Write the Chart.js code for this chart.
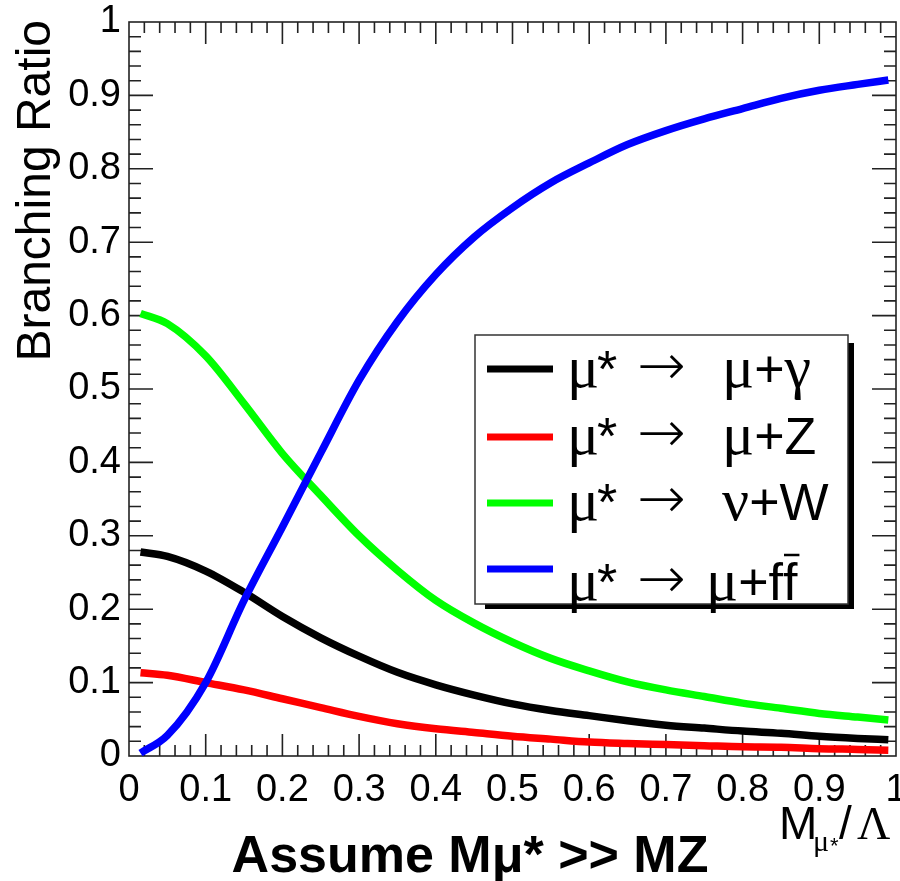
<!DOCTYPE html>
<html>
<head>
<meta charset="utf-8">
<script src="https://cdn.jsdelivr.net/npm/chart.js@4.4.0/dist/chart.umd.min.js"></script>
<style>
  html, body { margin: 0; padding: 0; background: #fff; }
</style>
</head>
<body>
<canvas id="myChart" width="900" height="881"></canvas>
<script>
// M/Lambda values the branching ratios were read at
const massRatio = [0.015, 0.05, 0.1, 0.15, 0.2, 0.25, 0.3, 0.35, 0.4, 0.45, 0.5,
                   0.55, 0.6, 0.65, 0.7, 0.75, 0.8, 0.85, 0.9, 0.95, 0.99];

const brGamma = [0.278, 0.272, 0.252, 0.223, 0.190, 0.161, 0.136, 0.114, 0.097, 0.083, 0.071,
                 0.062, 0.055, 0.048, 0.042, 0.038, 0.034, 0.031, 0.027, 0.024, 0.022];
const brZ     = [0.1135, 0.110, 0.100, 0.090, 0.078, 0.066, 0.054, 0.044, 0.037, 0.032, 0.027,
                 0.023, 0.019, 0.017, 0.0155, 0.014, 0.0125, 0.012, 0.010, 0.009, 0.008];
const brW     = [0.603, 0.589, 0.545, 0.480, 0.412, 0.355, 0.300, 0.253, 0.212, 0.181, 0.155,
                 0.133, 0.116, 0.101, 0.090, 0.081, 0.072, 0.065, 0.058, 0.053, 0.049];
const brFF    = [0.004, 0.028, 0.100, 0.212, 0.312, 0.413, 0.512, 0.592, 0.656, 0.707, 0.747,
                 0.781, 0.808, 0.833, 0.852, 0.868, 0.882, 0.896, 0.907, 0.915, 0.921];

const tickLabels = ['0', '0.1', '0.2', '0.3', '0.4', '0.5', '0.6', '0.7', '0.8', '0.9', '1'];

const seriesNames = ['μ* → μ+γ', 'μ* → μ+Z', 'μ* → ν+W', 'μ* → μ+ff̄'];
const seriesColors = ['#000000', '#ff0000', '#00ff00', '#0000ff'];

const SANS = '"Liberation Sans", Arial, sans-serif';
const SERIF = '"Liberation Serif", "Times New Roman", serif';

const toPoints = (ys) => ys.map((y, i) => ({ x: massRatio[i], y: y }));

// draw a list of [text, font] pieces one after another
function drawRuns(ctx, x, y, runs) {
  runs.forEach(([text, font]) => {
    ctx.font = font;
    ctx.fillText(text, x, y);
    x += ctx.measureText(text).width;
  });
  return x;
}

// ROOT-like frame: box with inward ticks on all four sides
const frameTicks = {
  id: 'frameTicks',
  beforeDatasetsDraw(chart) {
    const ctx = chart.ctx;
    const a = chart.chartArea;
    const xs = chart.scales.x, ys = chart.scales.y;
    ctx.save();
    ctx.strokeStyle = '#222';
    ctx.lineWidth = 1.6;
    ctx.strokeRect(a.left, a.top, a.right - a.left, a.bottom - a.top);
    ctx.beginPath();
    for (let i = 1; i < 50; i++) {
      const v = i / 50;
      const major = i % 5 === 0;
      const px = xs.getPixelForValue(v);
      const lx = major ? 22 : 11;
      ctx.moveTo(px, a.bottom); ctx.lineTo(px, a.bottom - lx);
      ctx.moveTo(px, a.top); ctx.lineTo(px, a.top + lx);
      const py = ys.getPixelForValue(v);
      const ly = major ? 24 : 12;
      ctx.moveTo(a.left, py); ctx.lineTo(a.left + ly, py);
      ctx.moveTo(a.right, py); ctx.lineTo(a.right - ly, py);
    }
    ctx.stroke();
    ctx.restore();
  },
  afterDraw(chart) {
    const ctx = chart.ctx;
    ctx.save();
    ctx.fillStyle = '#000';
    ctx.textBaseline = 'alphabetic';

    // y axis title, right aligned to the top of the frame
    ctx.save();
    ctx.translate(50, 20);
    ctx.rotate(-Math.PI / 2);
    ctx.textAlign = 'right';
    ctx.font = '48px ' + SANS;
    ctx.fillText('Branching Ratio', 0, 0);
    ctx.restore();

    // x axis title M_{mu*}/Lambda
    ctx.textAlign = 'left';
    ctx.font = '46px ' + SANS;
    ctx.fillText('M', 779, 839);
    ctx.font = '30px ' + SERIF;
    ctx.fillText('μ', 813, 851);
    ctx.font = '22px ' + SANS;
    ctx.fillText('*', 830, 853);
    ctx.font = '46px ' + SANS;
    ctx.fillText('/', 839, 839);
    ctx.font = '46px ' + SERIF;
    ctx.fillText('Λ', 857, 839);

    // caption under the plot
    ctx.textAlign = 'center';
    ctx.font = 'bold 52px ' + SANS;
    ctx.fillText('Assume Mμ* >> MZ', 470, 872);

    // legend box with drop shadow
    const box = { l: 475, t: 335, r: 848, b: 604 };
    ctx.fillStyle = '#000';
    ctx.fillRect(box.l + 10, box.b, box.r - box.l - 4, 5);
    ctx.fillRect(box.r, box.t + 8, 6, box.b - box.t - 3);
    ctx.fillStyle = '#fff';
    ctx.fillRect(box.l, box.t, box.r - box.l, box.b - box.t);
    ctx.strokeStyle = '#333';
    ctx.lineWidth = 1.5;
    ctx.strokeRect(box.l, box.t, box.r - box.l, box.b - box.t);

    const rows = [
      { y: 369, base: 18, x2: 722, prod: [['μ', '60px ' + SERIF], ['+', '52px ' + SANS], ['γ', '60px ' + SERIF]] },
      { y: 437, base: 17, x2: 722, prod: [['μ', '60px ' + SERIF], ['+', '52px ' + SANS], ['Z', '52px ' + SANS]] },
      { y: 503, base: 17, x2: 722, prod: [['ν', '60px ' + SERIF], ['+', '52px ' + SANS], ['W', '52px ' + SANS]] },
      { y: 569, base: 31, x2: 706, prod: [['μ', '60px ' + SERIF], ['+', '52px ' + SANS], ['f', '52px ' + SANS], ['f', '52px ' + SANS]], bar: true }
    ];
    ctx.textAlign = 'left';
    chart.data.datasets.forEach((ds, i) => {
      const row = rows[i];
      ctx.strokeStyle = ds.borderColor;
      ctx.lineWidth = 7;
      ctx.beginPath();
      ctx.moveTo(487, row.y);
      ctx.lineTo(553, row.y);
      ctx.stroke();

      const base = row.y + row.base;
      ctx.fillStyle = '#000';
      ctx.font = '60px ' + SERIF;
      ctx.fillText('μ', 567, base);
      ctx.font = '52px ' + SANS;
      ctx.fillText('*', 597, base);
      ctx.font = '200 58px "DejaVu Sans", sans-serif';
      ctx.fillText('→', 637, base - 2);
      const end = drawRuns(ctx, row.x2, base, row.prod);
      if (row.bar) {
        // anti-fermion bar over the last f
        ctx.font = '52px ' + SANS;
        const fw = ctx.measureText('f').width;
        ctx.lineWidth = 2.5;
        ctx.strokeStyle = '#000';
        ctx.beginPath();
        ctx.moveTo(end - fw + 1, base - 45);
        ctx.lineTo(end + 2, base - 45);
        ctx.stroke();
      }
    });
    ctx.restore();
  }
};

const datasets = [brGamma, brZ, brW, brFF].map((ys, i) => ({
  label: seriesNames[i],
  data: toPoints(ys),
  borderColor: seriesColors[i],
  borderWidth: 7.5,
  borderCapStyle: 'butt',
  pointRadius: 0,
  cubicInterpolationMode: 'monotone',
  fill: false,
  order: 3 - i
}));

const tickFont = { family: SANS, size: 38 };

const config = {
  type: 'line',
  data: { datasets: datasets },
  options: {
    responsive: false,
    animation: false,
    devicePixelRatio: 1,
    layout: { padding: { top: 22, right: 4, left: 0, bottom: 0 } },
    plugins: {
      legend: { display: false },
      tooltip: { enabled: false }
    },
    scales: {
      x: {
        type: 'linear',
        min: 0,
        max: 1,
        grid: { display: false, drawTicks: false },
        border: { display: false },
        ticks: {
          stepSize: 0.1,
          autoSkip: false,
          maxRotation: 0,
          padding: 12,
          color: '#000',
          font: tickFont,
          callback: (v) => tickLabels[Math.round(v * 10)]
        },
        afterFit(scale) {
          scale.height = 125;
          scale.paddingLeft = 0;
          scale.paddingRight = 0;
        }
      },
      y: {
        type: 'linear',
        min: 0,
        max: 1,
        grid: { display: false, drawTicks: false },
        border: { display: false },
        ticks: {
          stepSize: 0.1,
          autoSkip: false,
          padding: 8,
          color: '#000',
          font: tickFont,
          callback: (v) => tickLabels[Math.round(v * 10)]
        },
        afterFit(scale) {
          scale.width = 129;
          scale.paddingTop = 0;
          scale.paddingBottom = 0;
        }
      }
    }
  },
  plugins: [frameTicks]
};

var thisChart = new Chart(document.getElementById('myChart'), config);
</script>
</body>
</html>
